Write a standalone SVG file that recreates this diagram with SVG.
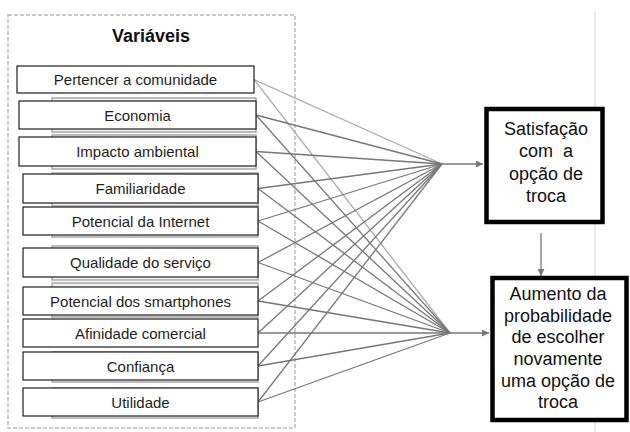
<svg xmlns="http://www.w3.org/2000/svg" width="630" height="432" viewBox="0 0 630 432">
<style>
  .lbl{font-family:"Liberation Sans",Arial,sans-serif;font-size:15px;fill:#1e1e1e;text-anchor:middle}
  .big{font-family:"Liberation Sans",Arial,sans-serif;font-size:18px;fill:#111;text-anchor:middle}
  .box{fill:#fff;stroke:#1e1e1e;stroke-width:1.2}
  .shd{fill:#f2f2f2;stroke:#a8a8a8;stroke-width:1.5}
  .out{fill:#fff;stroke:#000;stroke-width:4.5}
  .c{stroke:#777;stroke-width:1.3;fill:none}
  .cl{stroke:#aaa;stroke-width:1.3;fill:none}
</style>
<defs>
  <marker id="ah" viewBox="0 0 8 8" refX="8" refY="4" markerWidth="7" markerHeight="7" markerUnits="userSpaceOnUse" orient="auto">
    <path d="M0,0 L8,4 L0,8 Z" fill="#777"/>
  </marker>
</defs>
<rect width="630" height="432" fill="#fff"/>
<line x1="595" y1="12" x2="595" y2="432" stroke="#ddd" stroke-width="1.2"/>
<g id="container">
  <rect x="8" y="15" width="287" height="413" fill="none" stroke="#bbb" stroke-width="1.5" stroke-dasharray="4 2"/>
  <text x="151" y="42" class="big" style="font-weight:bold">Variáveis</text>
</g>
<g id="shadows">
  <rect class="shd" x="52" y="98" width="204" height="34"/>
  <rect class="shd" x="52" y="135" width="204" height="34"/>
  <rect class="shd" x="52" y="173" width="206" height="33"/>
  <rect class="shd" x="52" y="210" width="206" height="27"/>
  <rect class="shd" x="52" y="246" width="206" height="34"/>
  <rect class="shd" x="52" y="283" width="206" height="34"/>
  <rect class="shd" x="52" y="352" width="206" height="30"/>
  <rect class="shd" x="52" y="388" width="206" height="30"/>
</g>
<g id="connectors">
  <g class="cl">
    <line x1="254" y1="79.5" x2="442" y2="164"/>
    <line x1="254" y1="79.5" x2="450" y2="333"/>
  </g>
  <g class="c">
    <line x1="256" y1="115" x2="442" y2="164"/>
    <line x1="256" y1="151.5" x2="442" y2="164"/>
    <line x1="258" y1="188.5" x2="442" y2="164"/>
    <line x1="258" y1="221" x2="442" y2="164"/>
    <line x1="258" y1="262.5" x2="442" y2="164"/>
    <line x1="258" y1="301" x2="442" y2="164"/>
    <line x1="258" y1="333" x2="442" y2="164"/>
    <line x1="258" y1="366" x2="442" y2="164"/>
    <line x1="258" y1="402" x2="442" y2="164"/>
    <line x1="256" y1="115" x2="450" y2="333"/>
    <line x1="256" y1="151.5" x2="450" y2="333"/>
    <line x1="258" y1="188.5" x2="450" y2="333"/>
    <line x1="258" y1="221" x2="450" y2="333"/>
    <line x1="258" y1="262.5" x2="450" y2="333"/>
    <line x1="258" y1="301" x2="450" y2="333"/>
    <line x1="258" y1="333" x2="450" y2="333"/>
    <line x1="258" y1="366" x2="450" y2="333"/>
    <line x1="258" y1="402" x2="450" y2="333"/>
    <line x1="442" y1="164" x2="483" y2="164" marker-end="url(#ah)"/>
    <line x1="450" y1="333" x2="489" y2="333" marker-end="url(#ah)"/>
    <line x1="541" y1="233" x2="541" y2="276" marker-end="url(#ah)"/>
  </g>
</g>
<g id="n1"><rect class="box" x="17" y="66" width="237" height="27"/><text class="lbl" x="135.5" y="85">Pertencer a comunidade</text></g>
<g id="n2"><rect class="box" x="19" y="101" width="237" height="28"/><text class="lbl" x="137.5" y="120.5">Economia</text></g>
<g id="n3"><rect class="box" x="19" y="137" width="237" height="29"/><text class="lbl" x="137.5" y="157">Impacto ambiental</text></g>
<g id="n4"><rect class="box" x="23" y="174" width="235" height="29"/><text class="lbl" x="140.5" y="194">Familiaridade</text></g>
<g id="n5"><rect class="box" x="23" y="207" width="235" height="28"/><text class="lbl" x="140.5" y="226.5">Potencial da Internet</text></g>
<g id="n6"><rect class="box" x="23" y="248" width="235" height="29"/><text class="lbl" x="140.5" y="268">Qualidade do serviço</text></g>
<g id="n7"><rect class="box" x="23" y="287" width="235" height="28"/><text class="lbl" x="140.5" y="306.5">Potencial dos smartphones</text></g>
<g id="n8"><rect class="box" x="23" y="319" width="235" height="28"/><text class="lbl" x="140.5" y="338.5">Afinidade comercial</text></g>
<g id="n9"><rect class="box" x="23" y="352" width="235" height="28"/><text class="lbl" x="140.5" y="371.5">Confiança</text></g>
<g id="n10"><rect class="box" x="23" y="388" width="235" height="28"/><text class="lbl" x="140.5" y="407.5">Utilidade</text></g>
<g id="satisfacao">
  <rect class="out" x="486.5" y="109" width="116" height="113"/>
  <text class="big" x="546" y="135">Satisfação</text>
  <text class="big" x="546" y="157" xml:space="preserve">com  a</text>
  <text class="big" x="546" y="180">opção de</text>
  <text class="big" x="546" y="202">troca</text>
</g>
<g id="aumento">
  <rect class="out" x="492.5" y="278" width="134" height="142"/>
  <text class="big" x="558" y="300">Aumento da</text>
  <text class="big" x="558" y="322">probabilidade</text>
  <text class="big" x="558" y="343">de escolher</text>
  <text class="big" x="558" y="365">novamente</text>
  <text class="big" x="558" y="387">uma opção de</text>
  <text class="big" x="558" y="408">troca</text>
</g>
</svg>
